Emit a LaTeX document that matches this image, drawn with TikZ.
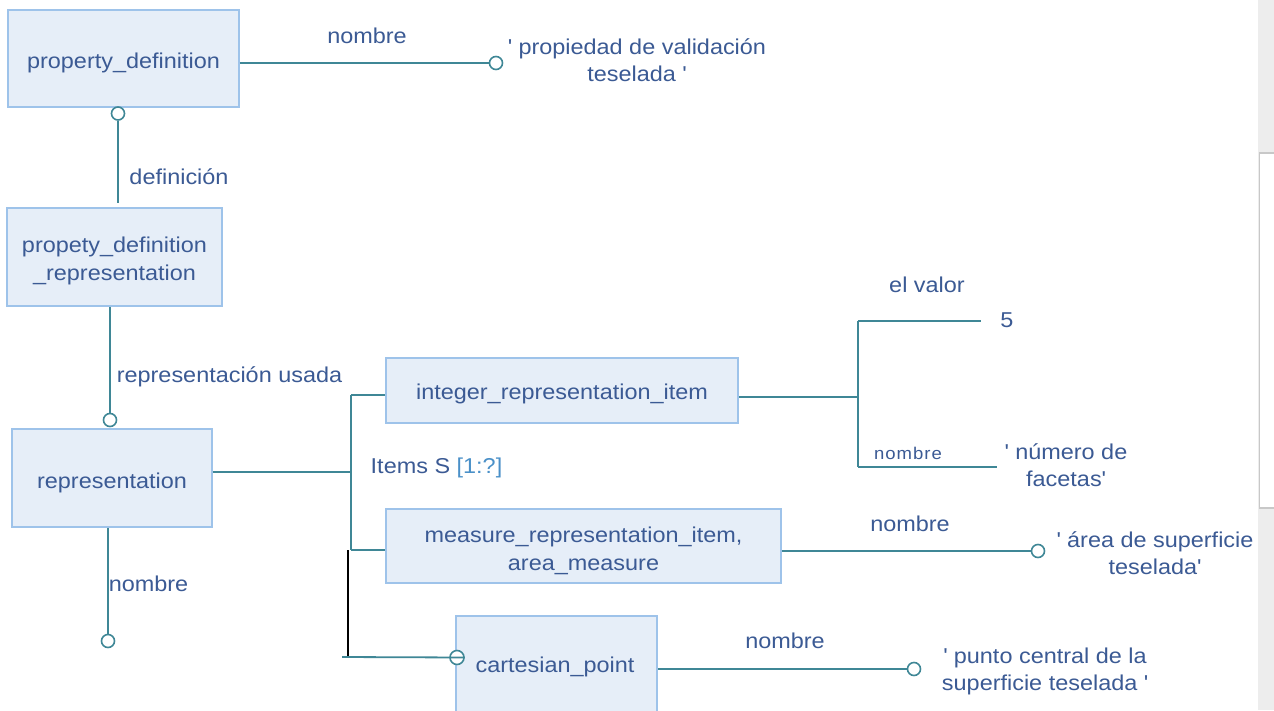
\documentclass[tikz,border=0pt]{standalone}
\usepackage{fontspec}
\setmainfont{Liberation Sans}[FakeStretch=1.09]
\newcommand{\aq}{\textquotesingle}
\definecolor{boxfill}{HTML}{E6EEF8}
\definecolor{boxline}{HTML}{9EC3EA}
\definecolor{txt}{HTML}{3B5A94}
\definecolor{teal}{HTML}{3F8796}
\definecolor{lightblue}{HTML}{4A90C8}
\definecolor{stripgray}{HTML}{EDEDED}
\definecolor{stripline}{HTML}{C8C8C8}
\tikzset{
  ent/.style={draw=boxline, line width=1.6pt, fill=boxfill, inner sep=0pt},
  enttext/.style={text=txt, align=center, font=\fontsize{21.5}{28}\selectfont, inner sep=0pt},
  lbl/.style={text=txt, align=center, font=\fontsize{21.5}{27}\selectfont, inner sep=0pt},
  smalllbl/.style={text=txt, font=\fontsize{17}{20}\selectfont\addfontfeature{LetterSpace=6}, inner sep=0pt},
  conn/.style={draw=teal, line width=1.8pt},
  ring/.style={circle, draw=teal, line width=1.6pt, fill=white, minimum size=13pt, inner sep=0pt},
}
\begin{document}
\begin{tikzpicture}[x=1pt,y=-1pt]
\useasboundingbox (0,0) rectangle (1274,710);
\fill[white] (0,0) rectangle (1274,710);
% right strip
\fill[stripgray] (1258,0) rectangle (1274,710);
\fill[white] (1260,153) rectangle (1274,508);
\draw[stripline, line width=1.2pt] (1274,153) -- (1259.5,153) -- (1259.5,508) -- (1274,508);

% entities (boxes and their texts)
\node[ent, minimum width=231pt, minimum height=97pt] (pd) at (123.5,58.5) {};
\node[enttext] (pdt) at (123.5,62.5) {property\_definition};
\node[ent, minimum width=215pt, minimum height=98pt] (pdr) at (114.5,257) {};
\node[enttext] (pdrt) at (114.5,260.5) {propety\_definition\\\_representation};
\node[ent, minimum width=200pt, minimum height=98pt] (rep) at (112,478) {};
\node[enttext] (rept) at (112,482.5) {representation};
\node[ent, minimum width=352pt, minimum height=65pt] (int) at (562,390.5) {};
\node[enttext] (intt) at (562,393.5) {integer\_representation\_item};
\node[ent, minimum width=395pt, minimum height=74pt] (meas) at (583.5,546) {};
\node[enttext] (meast) at (583.5,551) {measure\_representation\_item,\\area\_measure};
\node[ent, minimum width=201pt, minimum height=96pt] (cart) at (556.5,664) {};
\node[enttext] (cartt) at (555,667) {cartesian\_point};

% property_definition -> nombre
\node[ring] (o1) at (496,63) {};
\draw[conn] (pd.east |- o1) -- (o1.west);
\node[lbl] (l1) at (367,36) {nombre};
\node[lbl] (v1) at (637,60) {\aq{} propiedad de validación\\teselada \aq};

% definicion
\node[ring] (o2) at (118,113.5) {};
\coordinate (d2) at (118,203);
\draw[conn] (o2.south) -- (d2);
\node[lbl] (l2) at (179,177) {definición};

% representacion usada
\node[ring] (o3) at (110,420) {};
\draw[conn] (pdr.south -| o3) -- (o3.north);
\node[lbl] (l3) at (229.5,377) {representación usada};

% representation -> items
\coordinate (jr) at (351,472);
\coordinate (jt) at (351,395);
\coordinate (jm) at (351,550);
\coordinate (kb) at (348,550);
\coordinate (kc) at (348,657);
\coordinate (kl) at (342,657);
\draw[conn] (rep.east |- jr) -- (jr);
\draw[conn] (jt) -- (jm);
\draw[conn] (jt) -- (int.west |- jt);
\draw[conn] (jm) -- (meas.west |- jm);
\draw[black, line width=1.8pt] (kb) -- (kc);
\node[ring, minimum size=14pt] (o7) at (457,657.5) {};
\draw[conn] (kl) -- (o7.east);
\node[lbl] (l4) at (436.5,468) {Items S \textcolor{lightblue}{[1:?]}};

% representation -> nombre
\node[ring] (o4) at (108,641) {};
\draw[conn] (rep.south -| o4) -- (o4.north);
\node[lbl] (l5) at (148.5,584) {nombre};

% integer item attributes
\coordinate (ji) at (858,397);
\coordinate (jit) at (858,321);
\coordinate (jib) at (858,467);
\coordinate (e5) at (981,321);
\coordinate (en) at (997,467);
\draw[conn] (int.east |- ji) -- (ji);
\draw[conn] (jit) -- (jib);
\draw[conn] (jit) -- (e5);
\draw[conn] (jib) -- (en);
\node[lbl] (l6) at (927,285) {el valor};
\node[lbl] (v5) at (1007,320) {5};
\node[smalllbl] (l7) at (908,453) {nombre};
\node[lbl] (v6) at (1066,465) {\aq{} número de\\facetas\aq};

% measure -> nombre
\node[ring] (o5) at (1038,551) {};
\draw[conn] (meas.east |- o5) -- (o5.west);
\node[lbl] (l8) at (910,524) {nombre};
\node[lbl] (v7) at (1155,553) {\aq{} área de superficie\\teselada\aq};

% cartesian -> nombre
\node[ring] (o6) at (914,669) {};
\draw[conn] (cart.east |- o6) -- (o6.west);
\node[lbl] (l9) at (785,641) {nombre};
\node[lbl] (v8) at (1045,671) {\aq{} punto central de la\\superficie teselada \aq};
\end{tikzpicture}
\end{document}
